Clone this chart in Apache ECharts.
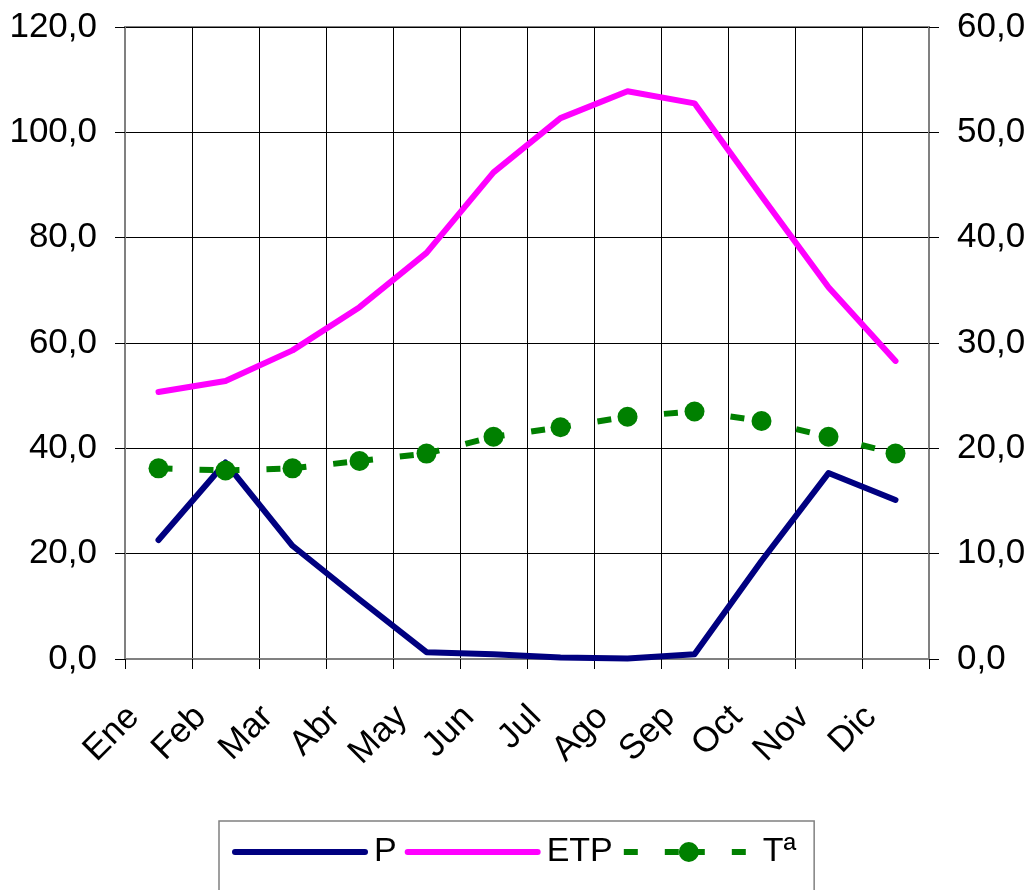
<!DOCTYPE html>
<html>
<head>
<meta charset="utf-8">
<script src="https://cdn.jsdelivr.net/npm/echarts@6/dist/echarts.min.js"></script>
<style>
  html, body { margin: 0; padding: 0; background: #fff; }
  #chart { width: 1033px; height: 890px; }
</style>
</head>
<body>
<div id="chart"></div>
<script>
const months = ['Ene','Feb','Mar','Abr','May','Jun','Jul','Ago','Sep','Oct','Nov','Dic'];
const seriesP   = [22.6, 37.3, 21.5, 11.3, 1.3, 0.9, 0.3, 0.1, 0.9, 18.6, 35.3, 30.2];
const seriesETP = [50.7, 52.8, 58.6, 66.8, 77.1, 92.4, 102.7, 107.8, 105.5, 87.9, 70.6, 56.6];
const seriesT   = [18.1, 17.9, 18.1, 18.8, 19.5, 21.1, 22.0, 23.0, 23.5, 22.6, 21.1, 19.5];
const leftTicks  = { min: 0, max: 120, interval: 20 };
const rightTicks = { min: 0, max: 60, interval: 10 };

const FONT = "'Liberation Sans', Arial, sans-serif";
const fmt = v => v.toFixed(1).replace('.', ',');

const chart = echarts.init(document.getElementById('chart'), null, { renderer: 'canvas' });
chart.setOption({
  animation: false,
  backgroundColor: '#ffffff',
  grid: {
    left: 125, right: 104, top: 27, bottom: 231,
    show: true, borderColor: '#808080', borderWidth: 2, backgroundColor: 'transparent',
    containLabel: false
  },
  legend: {
    data: [
      { name: 'P', itemStyle: { opacity: 0 } },
      { name: 'ETP', itemStyle: { opacity: 0 } },
      { name: 'Tª' }
    ],
    left: 219, top: 821,
    orient: 'horizontal',
    padding: [14, 18, 40, 13],
    itemGap: 8,
    itemWidth: 130,
    itemHeight: 25,
    borderColor: '#808080',
    borderWidth: 1.5,
    textStyle: { fontFamily: FONT, fontSize: 34, color: '#000', lineHeight: 34, padding: [0, 0, 0, 4] },
    lineStyle: { width: 6 }
  },
  xAxis: {
    type: 'category',
    data: months,
    boundaryGap: true,
    axisLine: { show: true, lineStyle: { color: '#808080', width: 2 } },
    axisTick: { show: true, interval: 0, length: 10, lineStyle: { color: '#000', width: 1 } },
    splitLine: { show: true, interval: 0, lineStyle: { color: '#000', width: 1 } },
    axisLabel: {
      interval: 0, rotate: 45, fontFamily: FONT, fontSize: 35, color: '#000',
      margin: 28, padding: [0, 35, 0, 0]
    }
  },
  yAxis: [
    {
      type: 'value', position: 'left',
      min: leftTicks.min, max: leftTicks.max, interval: leftTicks.interval,
      axisLine: { show: true, lineStyle: { color: '#808080', width: 2 } },
      axisTick: { show: true, length: 10, lineStyle: { color: '#000', width: 1 } },
      splitLine: { show: true, lineStyle: { color: '#000', width: 1 } },
      axisLabel: { formatter: fmt, fontFamily: FONT, fontSize: 35, color: '#000', margin: 28 }
    },
    {
      type: 'value', position: 'right',
      min: rightTicks.min, max: rightTicks.max, interval: rightTicks.interval,
      axisLine: { show: true, lineStyle: { color: '#808080', width: 2 } },
      axisTick: { show: true, length: 10, lineStyle: { color: '#000', width: 1 } },
      splitLine: { show: false },
      axisLabel: { formatter: fmt, fontFamily: FONT, fontSize: 35, color: '#000', margin: 28 }
    }
  ],
  series: [
    {
      name: 'P', type: 'line', yAxisIndex: 0, data: seriesP,
      symbol: 'none', showSymbol: false,
      lineStyle: { color: '#000080', width: 6, cap: 'round', join: 'round' },
      itemStyle: { color: '#000080' }
    },
    {
      name: 'ETP', type: 'line', yAxisIndex: 0, data: seriesETP,
      symbol: 'none', showSymbol: false,
      lineStyle: { color: '#FF00FF', width: 6, cap: 'round', join: 'round' },
      itemStyle: { color: '#FF00FF' }
    },
    {
      name: 'Tª', type: 'line', yAxisIndex: 1, data: seriesT,
      symbol: 'circle', symbolSize: 20, showSymbol: true,
      lineStyle: { color: '#008000', width: 6, type: [14, 27, 14, 12], cap: 'butt' },
      itemStyle: { color: '#008000', borderWidth: 0 }
    }
  ]
});
</script>
</body>
</html>
